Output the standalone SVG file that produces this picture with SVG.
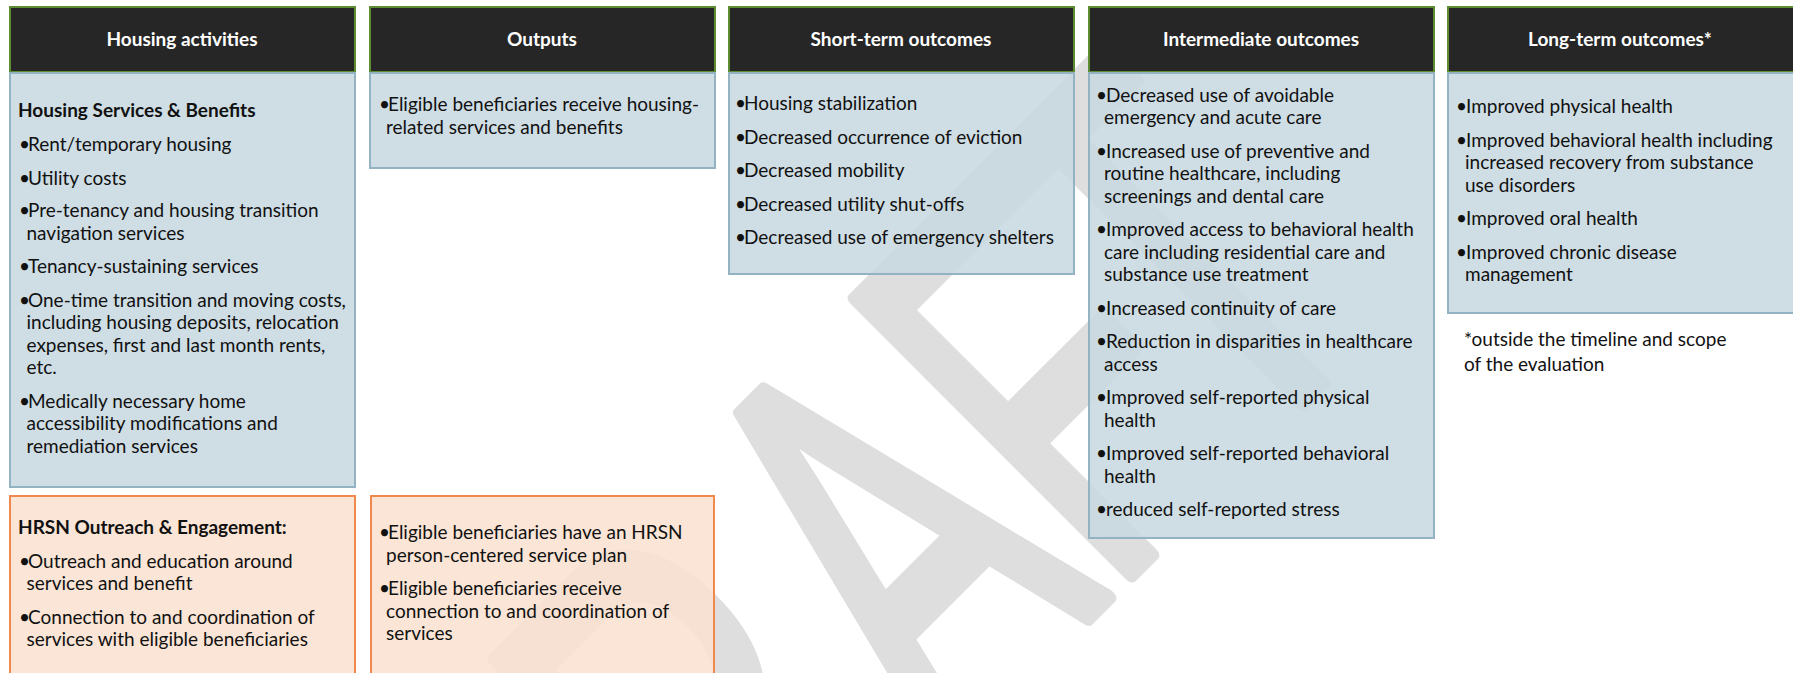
<svg xmlns="http://www.w3.org/2000/svg" width="1793" height="673" viewBox="0 0 1793 673">
<style>
.hd{fill:#262626;stroke:#5e8c31;stroke-width:2}
.bl{fill:rgb(200,216,224);fill-opacity:0.88;stroke:#93b3c3;stroke-width:2}
.or{fill:rgb(249,225,208);fill-opacity:0.88;stroke:#f0894d;stroke-width:2}
.ht{font-family:Lato,"Liberation Sans",sans-serif;font-weight:bold;font-size:19px;fill:#ffffff;text-anchor:middle}
.t{font-family:Lato,"Liberation Sans",sans-serif;font-size:19px;fill:#111111}
.b{font-weight:bold}
.wm{font-family:"Liberation Sans",Arial,sans-serif;font-size:566px;fill:#dedede;stroke:#dedede;stroke-width:16;stroke-linejoin:round}
</style>
<rect x="0" y="0" width="1793" height="673" fill="#ffffff"/>
<g id="watermark">
<text class="wm" transform="rotate(-45) scale(0.62,1)" x="-646 -237 210 585 876" y="1206">DRAFT</text>
</g>
<g id="col-housing-activities">
<rect class="hd" x="10" y="7" width="345" height="65"/>
<text class="ht" x="182" y="46">Housing activities</text>
</g>
<g id="col-outputs">
<rect class="hd" x="370" y="7" width="345" height="65"/>
<text class="ht" x="542" y="46">Outputs</text>
</g>
<g id="col-short-term">
<rect class="hd" x="729" y="7" width="345" height="65"/>
<text class="ht" x="901" y="46">Short-term outcomes</text>
</g>
<g id="col-intermediate">
<rect class="hd" x="1089" y="7" width="345" height="65"/>
<text class="ht" x="1261" y="46">Intermediate outcomes</text>
</g>
<g id="col-long-term">
<rect class="hd" x="1448" y="7" width="347" height="65"/>
<text class="ht" x="1620" y="46">Long-term outcomes*</text>
</g>
<g id="housing-services">
<rect class="bl" x="10" y="73" width="345" height="414"/>
<text class="t b" x="18" y="117">Housing Services &amp; Benefits</text>
<text class="t" y="151"><tspan x="19">•</tspan><tspan x="28">Rent/temporary housing</tspan></text>
<text class="t" y="184.5"><tspan x="19">•</tspan><tspan x="28">Utility costs</tspan></text>
<text class="t" y="217"><tspan x="19">•</tspan><tspan x="28">Pre-tenancy and housing transition</tspan></text>
<text class="t" x="26.5" y="239.5">navigation services</text>
<text class="t" y="273"><tspan x="19">•</tspan><tspan x="28">Tenancy-sustaining services</tspan></text>
<text class="t" y="306.5"><tspan x="19">•</tspan><tspan x="28">One-time transition and moving costs,</tspan></text>
<text class="t" x="26.5" y="329">including housing deposits, relocation</text>
<text class="t" x="26.5" y="351.5">expenses, first and last month rents,</text>
<text class="t" x="26.5" y="374">etc.</text>
<text class="t" y="407.5"><tspan x="19">•</tspan><tspan x="28">Medically necessary home</tspan></text>
<text class="t" x="26.5" y="430">accessibility modifications and</text>
<text class="t" x="26.5" y="452.5">remediation services</text>
</g>
<g id="housing-outputs">
<rect class="bl" x="370" y="73" width="345" height="95"/>
<text class="t" y="111"><tspan x="379">•</tspan><tspan x="388">Eligible beneficiaries receive housing-</tspan></text>
<text class="t" x="386" y="133.5">related services and benefits</text>
</g>
<g id="short-term-outcomes">
<rect class="bl" x="729" y="73" width="345" height="201"/>
<text class="t" y="110"><tspan x="735">•</tspan><tspan x="744">Housing stabilization</tspan></text>
<text class="t" y="143.5"><tspan x="735">•</tspan><tspan x="744">Decreased occurrence of eviction</tspan></text>
<text class="t" y="177"><tspan x="735">•</tspan><tspan x="744">Decreased mobility</tspan></text>
<text class="t" y="210.5"><tspan x="735">•</tspan><tspan x="744">Decreased utility shut-offs</tspan></text>
<text class="t" y="244"><tspan x="735">•</tspan><tspan x="744">Decreased use of emergency shelters</tspan></text>
</g>
<g id="intermediate-outcomes">
<rect class="bl" x="1089" y="73" width="345" height="465"/>
<text class="t" y="101.5"><tspan x="1096">•</tspan><tspan x="1106">Decreased use of avoidable</tspan></text>
<text class="t" x="1104" y="124">emergency and acute care</text>
<text class="t" y="157.5"><tspan x="1096">•</tspan><tspan x="1106">Increased use of preventive and</tspan></text>
<text class="t" x="1104" y="180">routine healthcare, including</text>
<text class="t" x="1104" y="202.5">screenings and dental care</text>
<text class="t" y="236"><tspan x="1096">•</tspan><tspan x="1106">Improved access to behavioral health</tspan></text>
<text class="t" x="1104" y="258.5">care including residential care and</text>
<text class="t" x="1104" y="281">substance use treatment</text>
<text class="t" y="314.5"><tspan x="1096">•</tspan><tspan x="1106">Increased continuity of care</tspan></text>
<text class="t" y="348"><tspan x="1096">•</tspan><tspan x="1106">Reduction in disparities in healthcare</tspan></text>
<text class="t" x="1104" y="370.5">access</text>
<text class="t" y="404"><tspan x="1096">•</tspan><tspan x="1106">Improved self-reported physical</tspan></text>
<text class="t" x="1104" y="426.5">health</text>
<text class="t" y="460"><tspan x="1096">•</tspan><tspan x="1106">Improved self-reported behavioral</tspan></text>
<text class="t" x="1104" y="482.5">health</text>
<text class="t" y="516"><tspan x="1096">•</tspan><tspan x="1106">reduced self-reported stress</tspan></text>
</g>
<g id="long-term-outcomes">
<rect class="bl" x="1448" y="73" width="347" height="240"/>
<text class="t" y="113"><tspan x="1456">•</tspan><tspan x="1466">Improved physical health</tspan></text>
<text class="t" y="146.5"><tspan x="1456">•</tspan><tspan x="1466">Improved behavioral health including</tspan></text>
<text class="t" x="1465" y="169">increased recovery from substance</text>
<text class="t" x="1465" y="191.5">use disorders</text>
<text class="t" y="225"><tspan x="1456">•</tspan><tspan x="1466">Improved oral health</tspan></text>
<text class="t" y="258.5"><tspan x="1456">•</tspan><tspan x="1466">Improved chronic disease</tspan></text>
<text class="t" x="1465" y="281">management</text>
</g>
<g id="footnote">
<text class="t" x="1464" y="346">*outside the timeline and scope</text>
<text class="t" x="1464" y="371">of the evaluation</text>
</g>
<g id="hrsn-outreach">
<rect class="or" x="10" y="496" width="345" height="200"/>
<text class="t b" x="18" y="534">HRSN Outreach &amp; Engagement:</text>
<text class="t" y="567.5"><tspan x="19">•</tspan><tspan x="28">Outreach and education around</tspan></text>
<text class="t" x="26.5" y="590">services and benefit</text>
<text class="t" y="623.5"><tspan x="19">•</tspan><tspan x="28">Connection to and coordination of</tspan></text>
<text class="t" x="26.5" y="646">services with eligible beneficiaries</text>
</g>
<g id="hrsn-outputs">
<rect class="or" x="371" y="496" width="343" height="200"/>
<text class="t" y="539"><tspan x="379">•</tspan><tspan x="388">Eligible beneficiaries have an HRSN</tspan></text>
<text class="t" x="386" y="561.5">person-centered service plan</text>
<text class="t" y="595"><tspan x="379">•</tspan><tspan x="388">Eligible beneficiaries receive</tspan></text>
<text class="t" x="386" y="617.5">connection to and coordination of</text>
<text class="t" x="386" y="640">services</text>
</g>
</svg>
